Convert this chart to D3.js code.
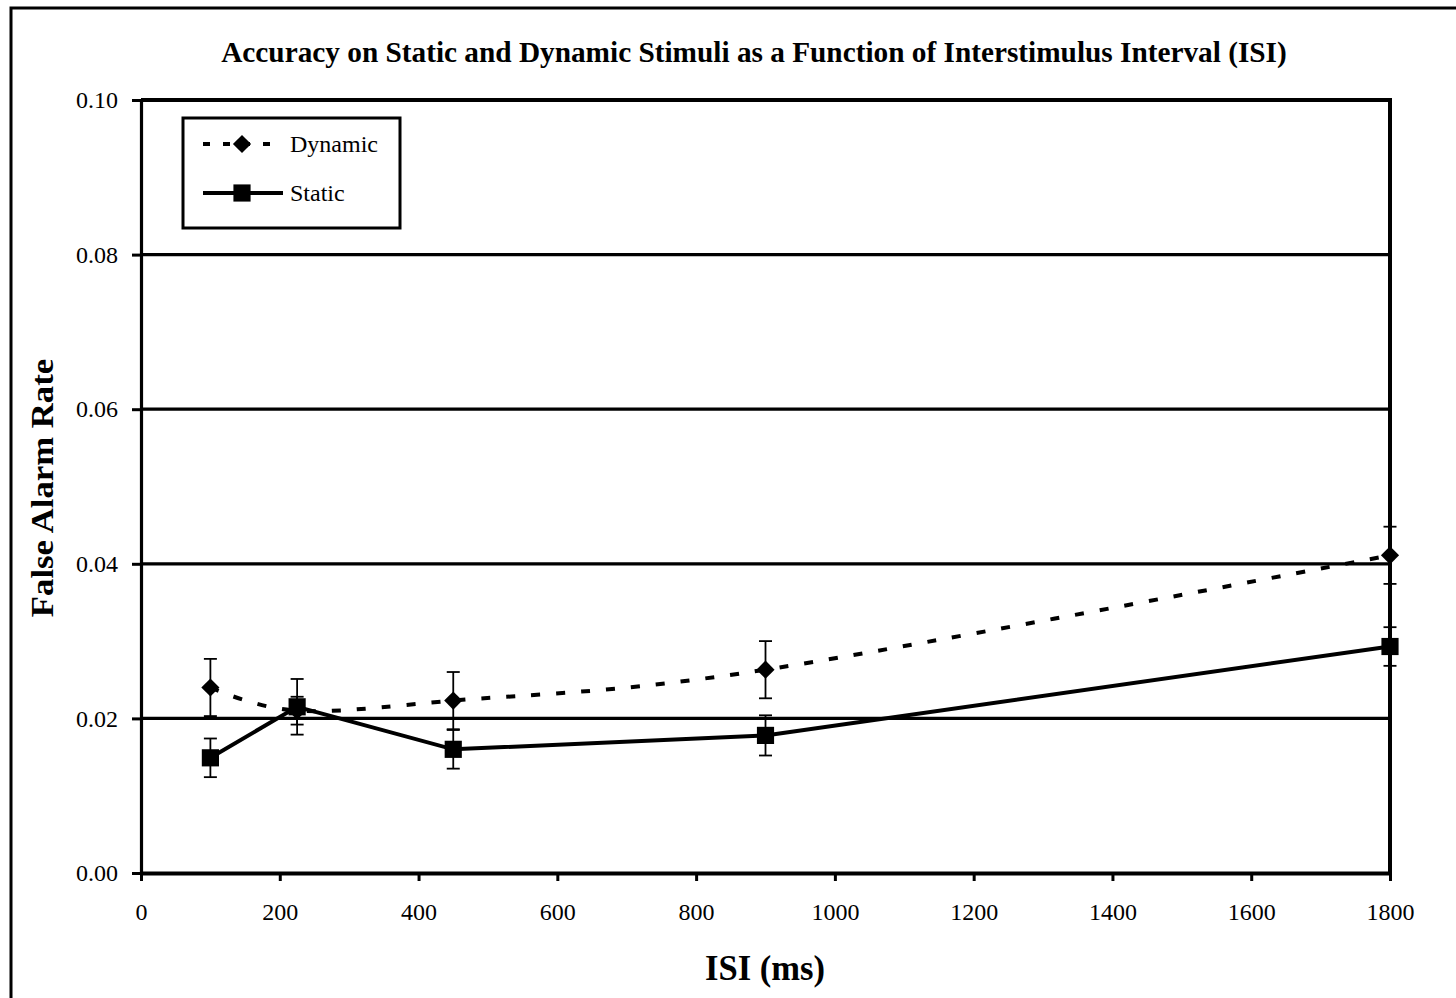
<!DOCTYPE html>
<html>
<head>
<meta charset="utf-8">
<script src="https://cdn.jsdelivr.net/npm/d3@7"></script>
<style>
  html, body { margin: 0; padding: 0; background: #fff; }
  svg { display: block; }
</style>
</head>
<body>
<svg id="chart" width="1456" height="998"></svg>
<script>
// ---- data ----
const isi = [100, 225, 450, 900, 1800];
const dynamicRate = [0.0240, 0.0210, 0.0223, 0.0263, 0.0411];
const dynamicErr  = [0.0037, 0.0018, 0.0037, 0.0037, 0.0037];
const staticRate  = [0.0149, 0.0215, 0.0160, 0.0178, 0.0293];
const staticErr   = [0.0025, 0.0036, 0.0025, 0.0026, 0.0025];
const xTicks = [0, 200, 400, 600, 800, 1000, 1200, 1400, 1600, 1800];
const yTicks = [0, 0.02, 0.04, 0.06, 0.08, 0.10];
const gridValues = [0.02, 0.04, 0.06, 0.08];
const titleText = "Accuracy on Static and Dynamic Stimuli as a Function of Interstimulus Interval (ISI)";
const xTitle = "ISI (ms)";
const yTitle = "False Alarm Rate";
const seriesNames = ["Dynamic", "Static"];

(function () {
const svg = d3.select("#chart");
const font = "'Liberation Serif', 'Times New Roman', serif";

const pLeft = 141, pRight = 1390, pTop = 100, pBottom = 873;
const x = d3.scaleLinear().domain([0, 1800]).range([pLeft, pRight]);
const y = d3.scaleLinear().domain([0, 0.1]).range([pBottom, pTop]);

// outer frame (cropped at right/bottom)
svg.append("rect").attr("x", 11).attr("y", 8).attr("width", 1500).attr("height", 1050)
  .attr("fill", "none").attr("stroke", "#000").attr("stroke-width", 3);

// title
const title = svg.append("text").attr("x", 754).attr("y", 62).attr("text-anchor", "middle")
  .attr("font-family", font).attr("font-weight", "bold").attr("font-size", 24).text(titleText);
const tw = title.node().getComputedTextLength();
if (tw > 0) title.attr("font-size", 24 * 1066 / tw);

// gridlines
svg.append("g").selectAll("line").data(gridValues).join("line")
  .attr("x1", pLeft).attr("x2", pRight).attr("y1", d => y(d)).attr("y2", d => y(d))
  .attr("stroke", "#000").attr("stroke-width", 3.2);

// top & right frame
svg.append("line").attr("x1", pLeft).attr("x2", pRight + 2).attr("y1", y(0.1)).attr("y2", y(0.1))
  .attr("stroke", "#000").attr("stroke-width", 4);
svg.append("line").attr("x1", pRight).attr("x2", pRight).attr("y1", pTop).attr("y2", pBottom)
  .attr("stroke", "#000").attr("stroke-width", 4);

// axes
const yAxis = svg.append("g").attr("transform", `translate(${pLeft},0)`)
  .call(d3.axisLeft(y).tickValues(yTicks).tickFormat(d3.format(".2f")).tickSize(9).tickSizeOuter(0).tickPadding(14));
yAxis.select(".domain").attr("stroke-width", 3.2);
yAxis.selectAll(".tick line").attr("stroke-width", 3);
yAxis.selectAll("text").attr("font-family", font).attr("font-size", 24).attr("fill", "#000");

const xAxis = svg.append("g").attr("transform", `translate(0,${pBottom})`)
  .call(d3.axisBottom(x).tickValues(xTicks).tickFormat(d3.format("d")).tickSize(8).tickSizeOuter(0).tickPadding(22));
xAxis.select(".domain").attr("stroke-width", 4);
xAxis.selectAll(".tick line").attr("stroke-width", 3);
xAxis.selectAll("text").attr("font-family", font).attr("font-size", 24).attr("fill", "#000");

// axis titles
svg.append("text").attr("transform", "translate(765,980) scale(1.08,1.12)").attr("text-anchor", "middle")
  .attr("font-family", font).attr("font-weight", "bold").attr("font-size", 32).text(xTitle);
svg.append("text").attr("transform", "translate(53,488) rotate(-90) scale(1.12,1)").attr("text-anchor", "middle")
  .attr("font-family", font).attr("font-weight", "bold").attr("font-size", 31).text(yTitle);

const dyn = isi.map((v, i) => ({ x: v, y: dynamicRate[i], e: dynamicErr[i] }));
const sta = isi.map((v, i) => ({ x: v, y: staticRate[i], e: staticErr[i] }));

// lines
const dynLine = d3.line().x(d => x(d.x)).y(d => y(d.y)).curve(d3.curveCardinal.tension(0));
const staLine = d3.line().x(d => x(d.x)).y(d => y(d.y));
svg.append("path").attr("d", dynLine(dyn)).attr("fill", "none").attr("stroke", "#000")
  .attr("stroke-width", 4).attr("stroke-dasharray", "9,16");
svg.append("path").attr("d", staLine(sta)).attr("fill", "none").attr("stroke", "#000")
  .attr("stroke-width", 4);

// error bars
function errorBars(data) {
  const g = svg.append("g").attr("stroke", "#000").attr("stroke-width", 1.8);
  data.forEach(d => {
    const cx = x(d.x), y1 = y(d.y + d.e), y2 = y(d.y - d.e);
    g.append("line").attr("x1", cx).attr("x2", cx).attr("y1", y1).attr("y2", y2);
    g.append("line").attr("x1", cx - 6.5).attr("x2", cx + 6.5).attr("y1", y1).attr("y2", y1);
    g.append("line").attr("x1", cx - 6.5).attr("x2", cx + 6.5).attr("y1", y2).attr("y2", y2);
  });
}
errorBars(dyn);
errorBars(sta);

// markers
const diamond = d3.symbol().type(d3.symbolSquare).size(165);
const square = d3.symbol().type(d3.symbolSquare).size(295);
svg.append("g").selectAll("path").data(dyn).join("path")
  .attr("d", diamond).attr("transform", d => `translate(${x(d.x)},${y(d.y)}) rotate(45)`).attr("fill", "#000");
svg.append("g").selectAll("path").data(sta).join("path")
  .attr("d", square).attr("transform", d => `translate(${x(d.x)},${y(d.y)})`).attr("fill", "#000");

// legend
const lg = svg.append("g");
lg.append("rect").attr("x", 183).attr("y", 118).attr("width", 217).attr("height", 110)
  .attr("fill", "#fff").attr("stroke", "#000").attr("stroke-width", 3);
lg.append("line").attr("x1", 203).attr("x2", 283).attr("y1", 144).attr("y2", 144)
  .attr("stroke", "#000").attr("stroke-width", 4).attr("stroke-dasharray", "7,13");
lg.append("path").attr("d", diamond).attr("transform", "translate(242,144) rotate(45)").attr("fill", "#000");
lg.append("line").attr("x1", 203).attr("x2", 283).attr("y1", 193).attr("y2", 193)
  .attr("stroke", "#000").attr("stroke-width", 4);
lg.append("path").attr("d", square).attr("transform", "translate(242,193)").attr("fill", "#000");
lg.selectAll("text.lab").data(seriesNames).join("text").attr("class", "lab")
  .attr("x", 290).attr("y", (d, i) => 152 + i * 49)
  .attr("font-family", font).attr("font-size", 24).text(d => d);
})();
</script>
</body>
</html>
